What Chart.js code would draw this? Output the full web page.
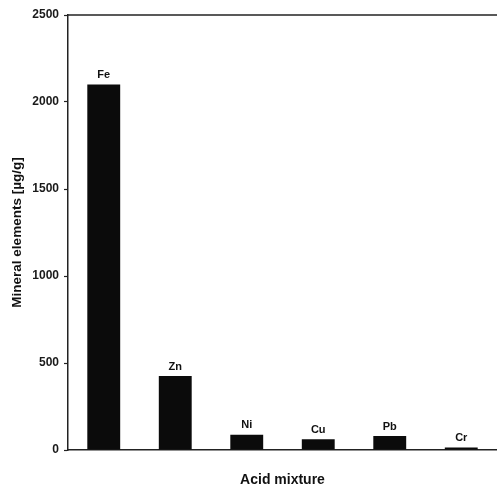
<!DOCTYPE html>
<html><head><meta charset="utf-8">
<script src="https://cdn.jsdelivr.net/npm/chart.js@4/dist/chart.umd.min.js"></script>
<style>html,body{margin:0;padding:0;background:#fff;}canvas{display:block;}</style>
</head><body>
<canvas id="c" width="497" height="486"></canvas>
<script>
const categories = ["Fe", "Zn", "Ni", "Cu", "Pb", "Cr"];
const values = [2100, 425, 88, 62, 80, 15];
const yTicks = [0, 500, 1000, 1500, 2000, 2500];

const labelPlugin = {
  id: 'barLabels',
  afterDatasetsDraw(chart) {
    const ctx = chart.ctx;
    const meta = chart.getDatasetMeta(0);
    ctx.save();
    ctx.font = 'bold 11px "Liberation Sans", Arial, sans-serif';
    ctx.fillStyle = '#111';
    ctx.textAlign = 'center';
    ctx.textBaseline = 'bottom';
    meta.data.forEach((bar, i) => {
      ctx.fillText(categories[i], bar.x, bar.y - 4);
    });
    ctx.restore();
  },
  afterDraw(chart) {
    const ctx = chart.ctx, a = chart.chartArea;
    ctx.save();
    ctx.strokeStyle = '#222';
    ctx.lineWidth = 1.5;
    ctx.beginPath();
    ctx.moveTo(a.left, a.top);
    ctx.lineTo(chart.width, a.top);
    ctx.stroke();
    ctx.restore();
  }
};

new Chart(document.getElementById('c'), {
  type: 'bar',
  data: {
    labels: categories,
    datasets: [{
      data: values,
      backgroundColor: '#0b0b0b',
      borderWidth: 0,
      barPercentage: 0.46,
      categoryPercentage: 1.0
    }]
  },
  options: {
    responsive: false,
    animation: false,
    layout: { padding: { top: 15, right: 0, left: 0, bottom: 0 } },
    plugins: { legend: { display: false }, tooltip: { enabled: false } },
    scales: {
      x: {
        offset: true,
        grid: { display: false, drawTicks: false },
        border: { display: true, color: '#222', width: 1.5 },
        ticks: { display: false },
        title: {
          display: true, text: 'Acid mixture', color: '#111',
          font: { family: '"Liberation Sans", Arial, sans-serif', size: 14, weight: 'bold' },
          padding: { top: 0, bottom: -3 }
        },
        afterFit(s) { s.height = 36; }
      },
      y: {
        min: 0, max: 2500,
        afterBuildTicks(s) { s.ticks = yTicks.map(v => ({ value: v })); },
        grid: { drawOnChartArea: false, drawTicks: true, tickLength: 4, color: '#222', tickWidth: 1.2 },
        border: { display: true, color: '#222', width: 1.5 },
        ticks: {
          color: '#1a1a1a', padding: 5,
          callback: (v) => String(v),
          font: { family: '"Liberation Sans", Arial, sans-serif', size: 12, weight: 'bold' }
        },
        title: {
          display: true, text: 'Mineral elements [µg/g]', color: '#111',
          font: { family: '"Liberation Sans", Arial, sans-serif', size: 13.5, weight: 'bold' },
          padding: { top: 9, bottom: 0 }
        },
        afterFit(s) { s.width = 68; }
      }
    }
  },
  plugins: [labelPlugin]
});
</script>
</body></html>
